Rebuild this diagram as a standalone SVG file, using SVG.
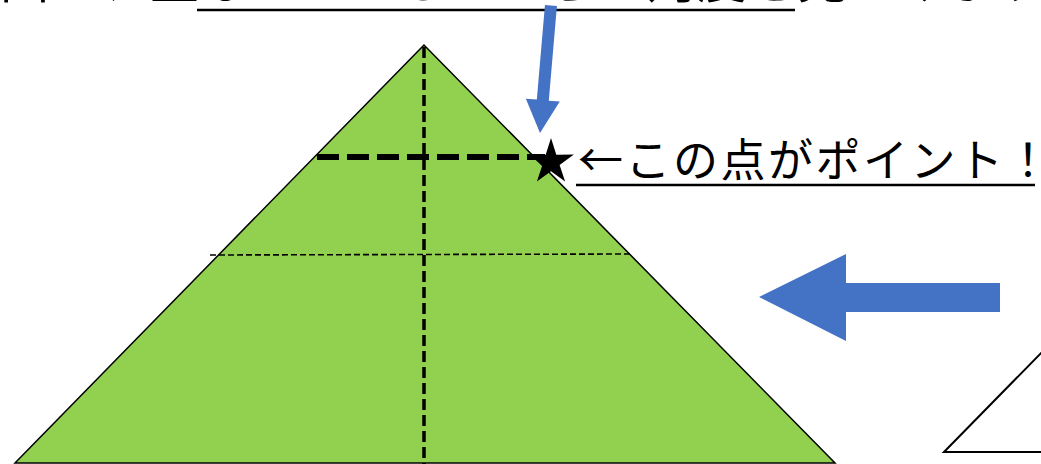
<svg xmlns="http://www.w3.org/2000/svg" width="1041" height="464" viewBox="0 0 1041 464">
<style>
.jp{font-family:"Noto Sans CJK JP","Noto Sans CJK SC",sans-serif;fill:#000;}
.blue{fill:#4472C4;}
.ul{stroke:#000;stroke-width:2.5;}
</style>
<rect width="1041" height="464" fill="#fff"/>
<g id="title">
<text class="jp" x="0" y="-2" font-size="49" letter-spacing="1">図の、重なっているところの角度を見つけます</text>
<line class="ul" x1="197" y1="10" x2="795" y2="10" stroke-width="4"/>
</g>
<g id="pyramid">
<polygon points="424,45 15,463 835,463" fill="#92D050" stroke="#000" stroke-width="1.5"/>
</g>
<g id="folds">
<line x1="424" y1="47" x2="424" y2="464" stroke="#000" stroke-width="3.5" stroke-dasharray="11,5"/>
<line x1="210" y1="255" x2="632" y2="254" stroke="#000" stroke-width="1.6" stroke-dasharray="6,3"/>
<line x1="317" y1="157" x2="545" y2="157" stroke="#000" stroke-width="6" stroke-dasharray="22,8"/>
</g>
<g id="star">
<polygon points="551,138 556.3,154.7 573.9,154.6 559.6,164.9 565.1,181.6 551,171.2 536.9,181.6 542.4,164.9 528.1,154.6 545.7,154.7" fill="#000"/>
</g>
<g id="label">
<text class="jp" x="578" y="177" font-size="45" letter-spacing="2.5">←この点がポイント！</text>
<line class="ul" x1="576" y1="185" x2="1035" y2="185"/>
</g>
<g id="right-triangle">
<polygon points="944,452 1045,349 1045,452" fill="#fff" stroke="#000" stroke-width="2"/>
</g>
<g id="connectors">
<g transform="translate(540,133) rotate(4.9)">
<polygon class="blue" points="0,0 -17,-33 -6,-33 -6,-128 6,-128 6,-33 17,-33"/>
</g>
<polygon class="blue" points="759,297 846,254 846,283 1000,283 1000,312 846,312 846,341"/>
</g>
</svg>
